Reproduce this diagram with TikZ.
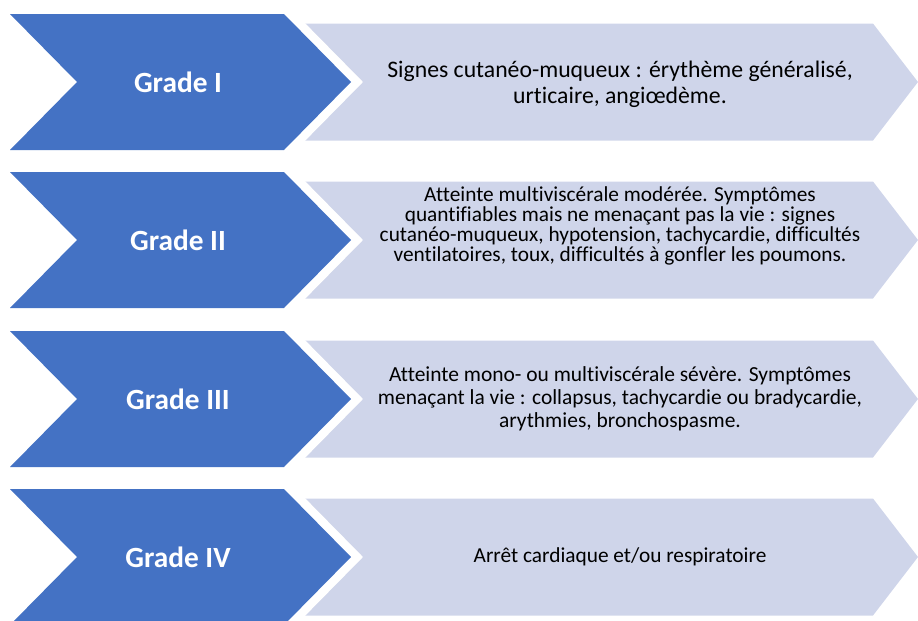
\documentclass[tikz,border=0pt]{standalone}
\usepackage{fontspec}
\setmainfont{Carlito}[Ligatures=NoCommon]
\usetikzlibrary{positioning}
\definecolor{gradeblue}{HTML}{4472C4}
\definecolor{panelgrey}{HTML}{CFD5EA}

\begin{document}
\begin{tikzpicture}[x=0.75pt, y=-0.75pt,
	chevron/.style={fill=gradeblue, preaction={draw=white, line width=12.8pt, line join=miter}},
	panel/.style={fill=panelgrey},
	gradename/.style={text=white, inner sep=0pt, font=\fontsize{22}{26}\selectfont\bfseries},
	symptoms/.style={text=black, align=center, inner sep=0pt}]

	\useasboundingbox (0,0) rectangle (918,621);

	%Grade I

	\fill [panel] (300,23.5) -- (873,23.5) -- (918,82) -- (873,140.5) -- (300,140.5) -- cycle;
	\path [chevron] (10,14) -- (284,14) -- (351,82) -- (284,150) -- (10,150) -- (77,82) -- cycle;

	\node (G1) [gradename] at (178,82) {Grade I};
	\node (T1) [symptoms, font=\fontsize{17.8}{19.5}\selectfont] at (620,84)
		{Signes cutanéo-muqueux : érythème généralisé,\\ urticaire, angiœdème.};

	%Grade II

	\fill [panel] (300,181.5) -- (873,181.5) -- (918,240) -- (873,298.5) -- (300,298.5) -- cycle;
	\path [chevron] (10,172) -- (284,172) -- (351,240) -- (284,308) -- (10,308) -- (77,240) -- cycle;

	\node (G2) [gradename] at (178,240) {Grade II};
	\node (T2) [symptoms, font=\fontsize{16}{15}\selectfont] at (620,226)
		{Atteinte multiviscérale modérée. Symptômes\\
		quantifiables mais ne menaçant pas la vie : signes\\
		cutanéo-muqueux, hypotension, tachycardie, difficultés\\
		ventilatoires, toux, difficultés à gonfler les poumons.};

	%Grade III

	\fill [panel] (300,340.5) -- (873,340.5) -- (918,399) -- (873,457.5) -- (300,457.5) -- cycle;
	\path [chevron] (10,331) -- (284,331) -- (351,399) -- (284,467) -- (10,467) -- (77,399) -- cycle;

	\node (G3) [gradename] at (178,399) {Grade III};
	\node (T3) [symptoms, font=\fontsize{16.1}{17.4}\selectfont] at (620,399)
		{Atteinte mono- ou multiviscérale sévère. Symptômes\\
		menaçant la vie : collapsus, tachycardie ou bradycardie,\\
		arythmies, bronchospasme.};

	%Grade IV

	\fill [panel] (300,498.5) -- (873,498.5) -- (918,557) -- (873,615.5) -- (300,615.5) -- cycle;
	\path [chevron] (10,489) -- (284,489) -- (351,557) -- (284,625) -- (10,625) -- (77,557) -- cycle;

	\node (G4) [gradename] at (178,557) {Grade IV};
	\node (T4) [symptoms, font=\fontsize{16}{18}\selectfont] at (620,557)
		{Arrêt cardiaque et/ou respiratoire};

\end{tikzpicture}
\end{document}
